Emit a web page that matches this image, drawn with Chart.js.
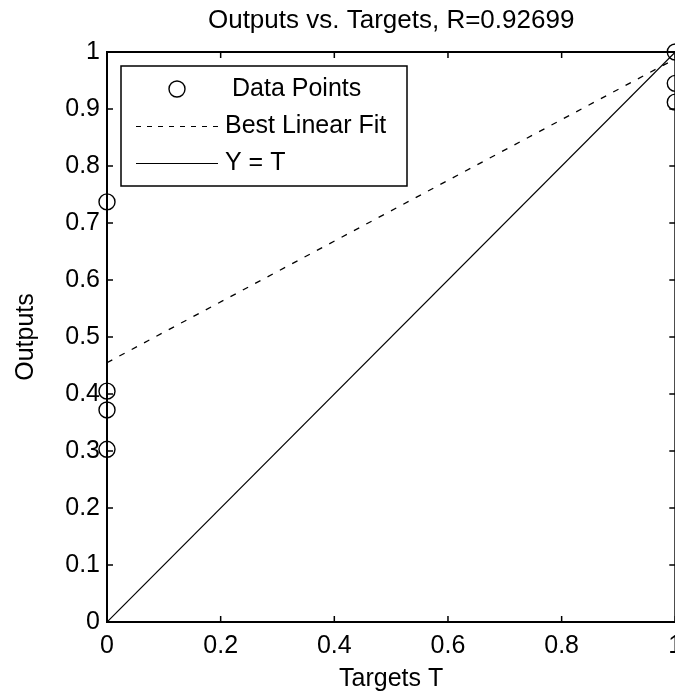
<!DOCTYPE html>
<html>
<head>
<meta charset="utf-8">
<title>Outputs vs. Targets</title>
<script src="https://cdn.jsdelivr.net/npm/chart.js@4.4.1/dist/chart.umd.min.js"></script>
<style>
  html, body { margin: 0; padding: 0; background: #fff; overflow: hidden; }
  #wrap { width: 675px; height: 694px; overflow: hidden; }
</style>
</head>
<body>
<div id="wrap"><canvas id="myChart" width="700" height="694"></canvas></div>
<script>
// data
const targets = [0, 0, 0, 0, 1, 1, 1];
const outputs = [0.737, 0.405, 0.372, 0.303, 1.0, 0.945, 0.912];
const fitT = [0, 1];
const fitY = [0.455, 0.988];
const idealT = [0, 1];
const idealY = [0, 1];
const xTicks = [0, 0.2, 0.4, 0.6, 0.8, 1];
const yTicks = [0, 0.1, 0.2, 0.3, 0.4, 0.5, 0.6, 0.7, 0.8, 0.9, 1];
const rValue = "0.92699";

const FONT = "'Liberation Sans', Arial, sans-serif";
Chart.defaults.font.family = FONT;
Chart.defaults.color = "#000";

function toPoints(xs, ys){
  return xs.map((x, i) => ({ x: x, y: ys[i] }));
}

// axes box with inward tick marks, like matlab
const boxAxes = {
  id: "boxAxes",
  afterDraw(chart){
    const ctx = chart.ctx;
    const ca = chart.chartArea;
    const xs = chart.scales.x;
    const ys = chart.scales.y;
    const len = 6;
    ctx.save();
    ctx.strokeStyle = "#000";
    ctx.lineWidth = 1.5;
    ctx.beginPath();
    xs.ticks.forEach(t => {
      const px = xs.getPixelForValue(t.value);
      ctx.moveTo(px, ca.bottom); ctx.lineTo(px, ca.bottom - len);
      ctx.moveTo(px, ca.top); ctx.lineTo(px, ca.top + len);
    });
    ys.ticks.forEach(t => {
      const py = ys.getPixelForValue(t.value);
      ctx.moveTo(ca.left, py); ctx.lineTo(ca.left + len, py);
      ctx.moveTo(ca.right, py); ctx.lineTo(ca.right - len, py);
    });
    ctx.stroke();
    ctx.lineWidth = 2;
    ctx.strokeRect(ca.left, ca.top, ca.right - ca.left, ca.bottom - ca.top);
    ctx.restore();
  }
};

const boxLegend = {
  id: "boxLegend",
  afterDraw(chart, args, opts){
    const ctx = chart.ctx;
    const ca = chart.chartArea;
    const x0 = ca.left + opts.left;
    const y0 = ca.top + opts.top;
    ctx.save();
    ctx.fillStyle = "#fff";
    ctx.fillRect(x0, y0, opts.width, opts.height);
    ctx.strokeStyle = "#000";
    ctx.lineWidth = 1.5;
    ctx.strokeRect(x0, y0, opts.width, opts.height);
    ctx.font = "25px " + FONT;
    ctx.textBaseline = "middle";
    ctx.textAlign = "left";
    chart.data.datasets.forEach((ds, i) => {
      const y = y0 + opts.rows[i];
      ctx.strokeStyle = ds.borderColor;
      ctx.lineWidth = 1;
      if (ds.showLine) {
        ctx.setLineDash(ds.borderDash ? [5, 6] : []);
        ctx.beginPath();
        ctx.moveTo(x0 + opts.lineFrom, y + 0.5);
        ctx.lineTo(x0 + opts.lineTo, y + 0.5);
        ctx.stroke();
        ctx.setLineDash([]);
        ctx.fillStyle = "#000";
        ctx.fillText(ds.label, x0 + opts.textX, y);
      } else {
        ctx.lineWidth = ds.borderWidth;
        ctx.beginPath();
        ctx.arc(x0 + (opts.lineFrom + opts.lineTo) / 2, y, ds.pointRadius, 0, Math.PI * 2);
        ctx.stroke();
        ctx.fillStyle = "#000";
        ctx.fillText(ds.label, x0 + opts.textX + 7, y);
      }
    });
    ctx.restore();
  }
};

new Chart("myChart", {
  type: "scatter",
  data: {
    datasets: [
      {
        label: "Data Points",
        data: toPoints(targets, outputs),
        showLine: false,
        pointStyle: "circle",
        pointRadius: 8,
        pointBorderWidth: 1.4,
        borderWidth: 1.4,
        borderColor: "#000",
        pointBackgroundColor: "rgba(0,0,0,0)",
        clip: false
      },
      {
        label: "Best Linear Fit",
        data: toPoints(fitT, fitY),
        showLine: true,
        pointRadius: 0,
        borderColor: "#000",
        borderWidth: 1.3,
        borderDash: [6, 8]
      },
      {
        label: "Y = T",
        data: toPoints(idealT, idealY),
        showLine: true,
        pointRadius: 0,
        borderColor: "#000",
        borderWidth: 1.2
      }
    ]
  },
  options: {
    responsive: false,
    animation: false,
    devicePixelRatio: 1,
    layout: { padding: { left: 0, top: 0, right: 24.7, bottom: 0 } },
    scales: {
      x: {
        type: "linear",
        min: 0,
        max: 1,
        afterBuildTicks: s => { s.ticks = xTicks.map(v => ({ value: v })); },
        afterFit: s => { s.height = 72; },
        grid: { display: false, drawTicks: false },
        border: { display: false },
        ticks: { padding: 9, font: { size: 25 }, color: "#000", callback: v => String(v) },
        title: { display: true, text: "Targets T", font: { size: 25 }, color: "#000", padding: { top: 0, bottom: 0 } }
      },
      y: {
        type: "linear",
        min: 0,
        max: 1,
        afterBuildTicks: s => { s.ticks = yTicks.map(v => ({ value: v })); },
        afterFit: s => { s.width = 107; },
        grid: { display: false, drawTicks: false },
        border: { display: false },
        ticks: { padding: 7, font: { size: 25 }, color: "#000", callback: v => String(v) },
        title: { display: true, text: "Outputs", font: { size: 25 }, color: "#000", padding: { top: 11, bottom: 0 } }
      }
    },
    plugins: {
      legend: { display: false },
      tooltip: { enabled: false },
      title: {
        display: true,
        fullSize: false,
        text: "Outputs vs. Targets, R=" + rValue,
        color: "#000",
        font: { size: 26, weight: "normal" },
        padding: { top: 5.4, bottom: 15.4 }
      },
      boxLegend: {
        left: 14, top: 14, width: 286, height: 120,
        rows: [23, 60, 97],
        lineFrom: 15, lineTo: 97, textX: 104
      }
    }
  },
  plugins: [boxAxes, boxLegend]
});
</script>
</body>
</html>
